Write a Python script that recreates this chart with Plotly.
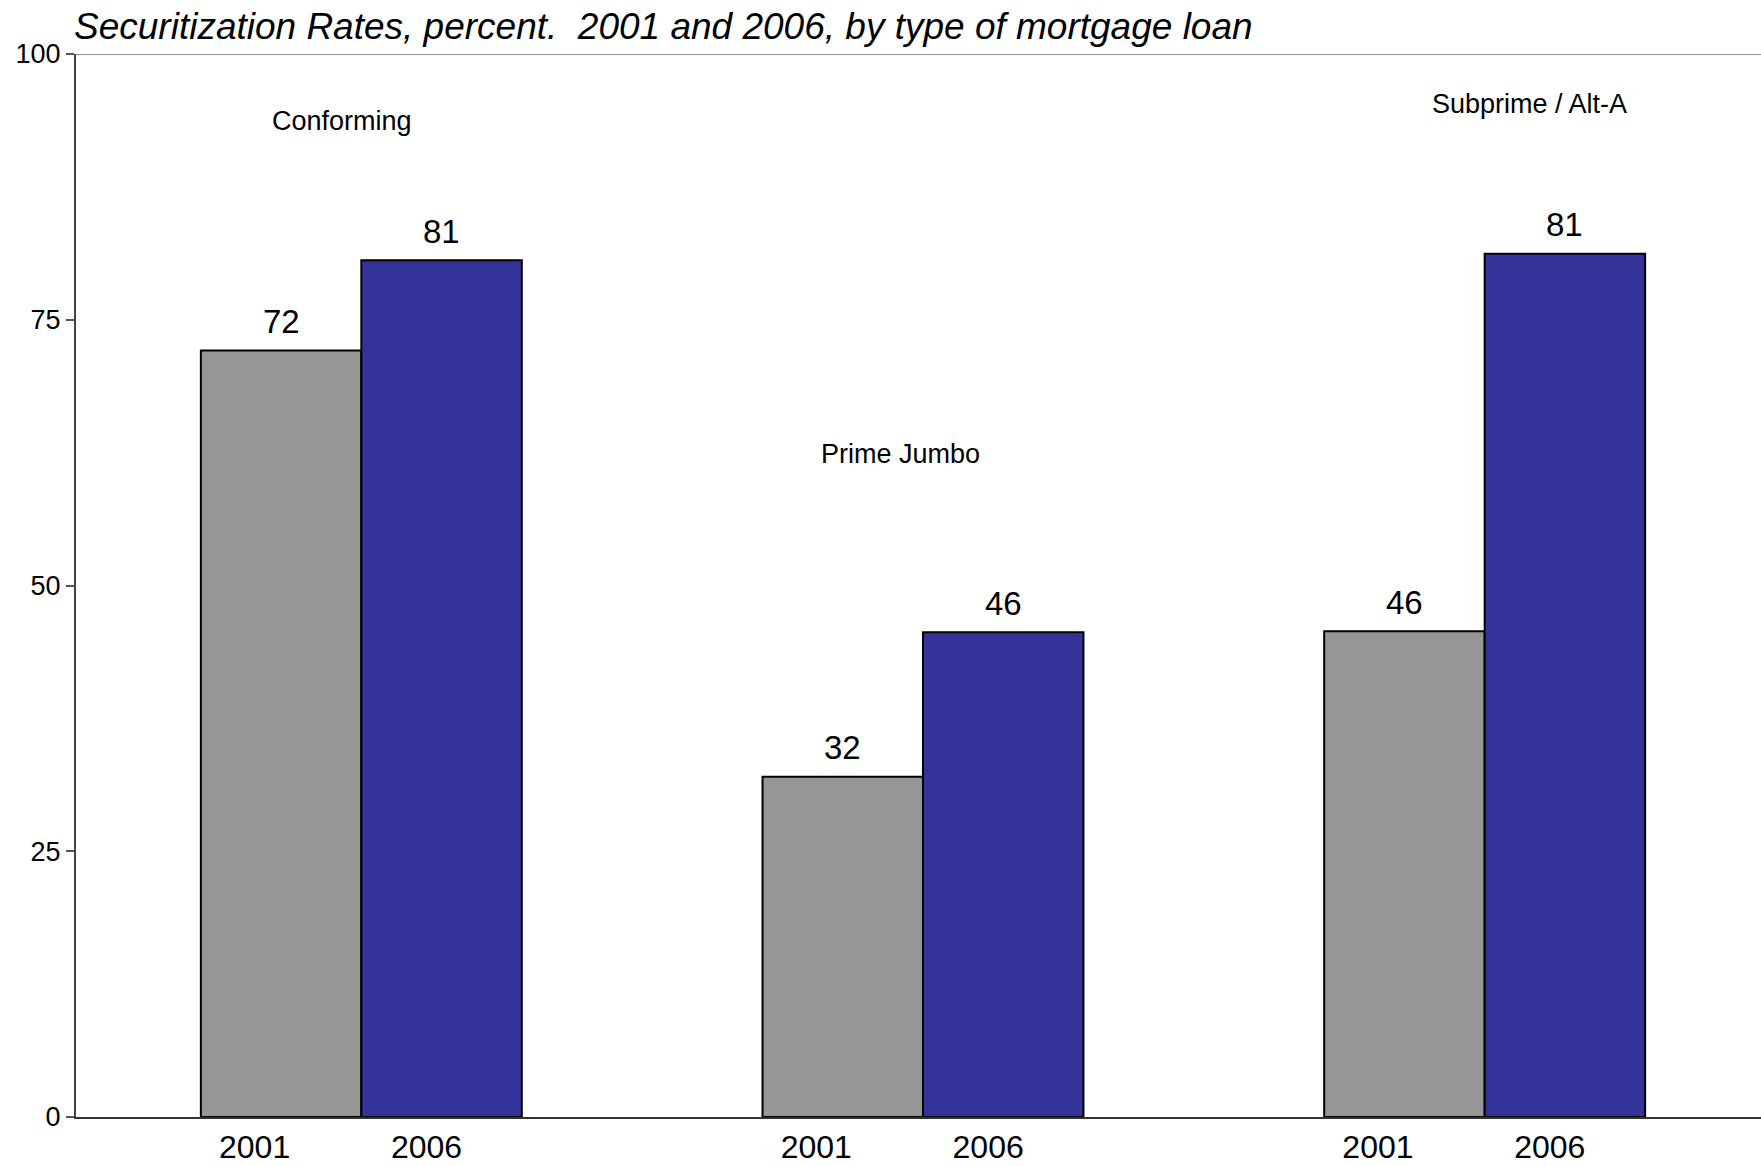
import plotly.graph_objects as go

# Securitization rates (percent) by type of mortgage loan
loan_types = ["Conforming", "Prime Jumbo", "Subprime / Alt-A"]
years = ["2001", "2006"]
rates_2001 = [72.1, 32.0, 45.7]
rates_2006 = [80.6, 45.6, 81.2]

FONT = "Arial, Liberation Sans, sans-serif"
GRAY = "#969696"
BLUE = "#333399"

group_x = list(range(len(loan_types)))
half = 0.1428  # half of one bar slot within a group

fig = go.Figure()
for name, vals, color, sign in [(years[0], rates_2001, GRAY, -1), (years[1], rates_2006, BLUE, 1)]:
    fig.add_trace(go.Bar(
        x=group_x, y=vals, name=name,
        marker=dict(color=color, line=dict(color="black", width=2)),
        showlegend=False, hoverinfo="skip",
    ))
    for gx, v in zip(group_x, vals):
        fig.add_annotation(
            x=gx + sign * half, y=v, xref="x", yref="y",
            text=f"{v:.0f}", showarrow=False,
            yanchor="middle", yshift=29,
            font=dict(family=FONT, size=33, color="black"),
        )

# year labels under each group
tick_off = [-0.19, 0.116]
tickvals, ticktext = [], []
for gx in group_x:
    for yr, off in zip(years, tick_off):
        tickvals.append(gx + off)
        ticktext.append(yr)

# loan-type captions
caption_pos = [(-0.034, 93.7), (0.96, 62.4), (2.08, 95.3)]
for label, (cx, cy) in zip(loan_types, caption_pos):
    fig.add_annotation(
        x=cx, y=cy, xref="x", yref="y", text=label, showarrow=False,
        font=dict(family=FONT, size=27, color="black"),
    )

# top frame line at 100
fig.add_shape(type="line", xref="paper", yref="y", x0=0, x1=1, y0=100, y1=100,
              line=dict(color="#707070", width=1.5))

fig.update_layout(
    width=1761, height=1166,
    margin=dict(l=76, r=0, t=54, b=49),
    paper_bgcolor="white", plot_bgcolor="white",
    barmode="group", bargap=0.4286, bargroupgap=0,
    title=dict(
        text="Securitization Rates, percent.  2001 and 2006, by type of mortgage loan",
        x=74 / 1761, xanchor="left", xref="container",
        y=1 - 26 / 1166, yanchor="middle", yref="container",
        font=dict(family=FONT, size=37, color="black", style="italic"),
    ),
    xaxis=dict(
        range=[-0.508, 2.492], showgrid=False, zeroline=False,
        showline=True, linecolor="#333333", linewidth=2,
        tickmode="array", tickvals=tickvals, ticktext=ticktext, ticks="",
        ticklabelstandoff=1, automargin=False,
        tickfont=dict(family=FONT, size=32, color="black"),
    ),
    yaxis=dict(
        range=[0, 100], showgrid=False, zeroline=False,
        showline=True, linecolor="#444444", linewidth=2,
        tickmode="array", tickvals=[0, 25, 50, 75, 100],
        ticks="outside", ticklen=8, tickcolor="#555555", tickwidth=1.5,
        automargin=False,
        tickfont=dict(family=FONT, size=27, color="black"),
    ),
)

fig.write_html("out.html")
